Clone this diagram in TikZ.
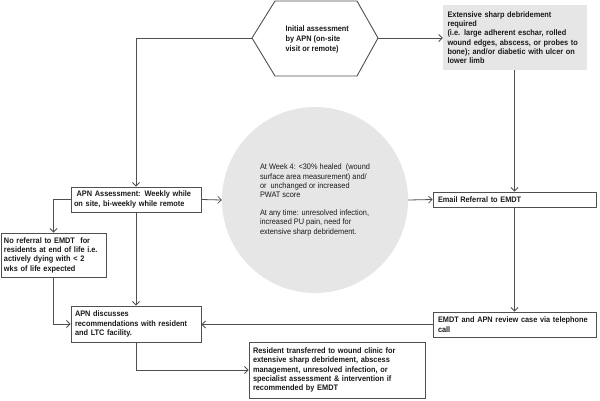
\documentclass[tikz,border=0pt]{standalone}
\usepackage{fontspec}
\setmainfont{Liberation Sans}[FakeStretch=0.92]
\usetikzlibrary{arrows.meta}
\definecolor{ln}{HTML}{505050}
\definecolor{tx}{HTML}{1A1A1A}
\definecolor{gfill}{HTML}{E6E6E6}
\begin{document}
\hyphenpenalty=10000
\begin{tikzpicture}[x=1pt,y=-1pt,
  every node/.style={font=\fontsize{8}{9.3}\selectfont\bfseries, text=tx},
  box/.style={draw=ln, line width=0.9pt, fill=white, align=left, inner xsep=6pt, inner ysep=2pt},
  conn/.style={draw=ln, line width=0.8pt, -{Straight Barb[length=3.5pt,width=7pt]}},
  plain/.style={draw=ln, line width=0.8pt}]
\useasboundingbox (0,0) rectangle (600,400);

% hexagon
\draw[ln, line width=0.9pt, fill=white] (252,38) -- (275,1) -- (357,1) -- (378,38) -- (357,76) -- (275,76) -- cycle;
\coordinate (hexL) at (252,38);
\coordinate (hexR) at (378,38);
\node[align=left, font=\fontsize{8}{10}\selectfont\bfseries, anchor=west] (hex) at (282,39) {Initial assessment\\by APN (on-site\\visit or remote)};

% grey box
\node[fill=gfill, align=left, minimum width=144pt, minimum height=65pt, text width=135pt, inner xsep=4.5pt] (grey) at (515,37.5)
 {Extensive sharp debridement\\required\\(i.e. large adherent eschar, rolled\\wound edges, abscess, or probes to\\bone); and/or diabetic with ulcer on\\lower limb};

% circle
\node[circle, fill=gfill, minimum size=186pt, inner sep=0pt, align=left, font=\fontsize{8}{9.2}\selectfont] (circ) at (315,200)
 {At Week 4: <30\% healed \ (wound\\surface area measurement) and/\\or \ unchanged or increased\\PWAT score\\[9pt]At any time: unresolved infection,\\increased PU pain, need for\\extensive sharp debridement.};

% boxes
\node[box, minimum width=163pt, minimum height=15pt, text width=153pt, inner xsep=5pt] (email) at (514.5,199.5) {Email Referral to EMDT};
\node[box, minimum width=163pt, minimum height=25pt, text width=153pt, inner xsep=5pt] (emdt) at (514.5,324.5) {EMDT and APN review case via telephone\\call};
\node[box, minimum width=130pt, minimum height=25pt, text width=124pt, inner xsep=3pt] (apnA) at (136,199.5) {\ APN Assessment: Weekly while\\on site, bi-weekly while remote};
\node[box, minimum width=105pt, minimum height=44pt, text width=99pt, inner xsep=3pt] (noref) at (53.5,255) {No referral to EMDT \ for\\residents at end of life i.e.\\actively dying with < 2\\wks of life expected};
\node[box, minimum width=130pt, minimum height=36pt, text width=122pt, inner xsep=4pt] (apnD) at (136,324) {APN discusses\\recommendations with resident\\and LTC facility.};
\node[box, minimum width=176pt, minimum height=56pt, text width=168pt, inner xsep=4pt] (res) at (337,370) {Resident transferred to wound clinic for\\extensive sharp debridement, abscess\\management, unresolved infection, or\\specialist assessment \& intervention if\\recommended by EMDT};

% connectors
\draw[conn] (hexL) -| (apnA.north);
\draw[conn] (hexR) -- (grey.west |- hexR);
\draw[conn] (grey.south -| email.north) -- (email.north);
\draw[conn] (apnA.east) -- (circ.west);
\draw[conn] (circ.east) -- (email.west);
\draw[conn] (apnA.west) -| (noref.north);
\draw[conn] (apnA.south) -- (apnD.north);
\draw[conn] (noref.south) |- (apnD.west);
\draw[conn] (email.south) -- (emdt.north);
\draw[conn] (emdt.west) -- (apnD.east |- emdt.west);
\draw[conn] (apnD.south) |- (res.west);
\end{tikzpicture}
\end{document}
